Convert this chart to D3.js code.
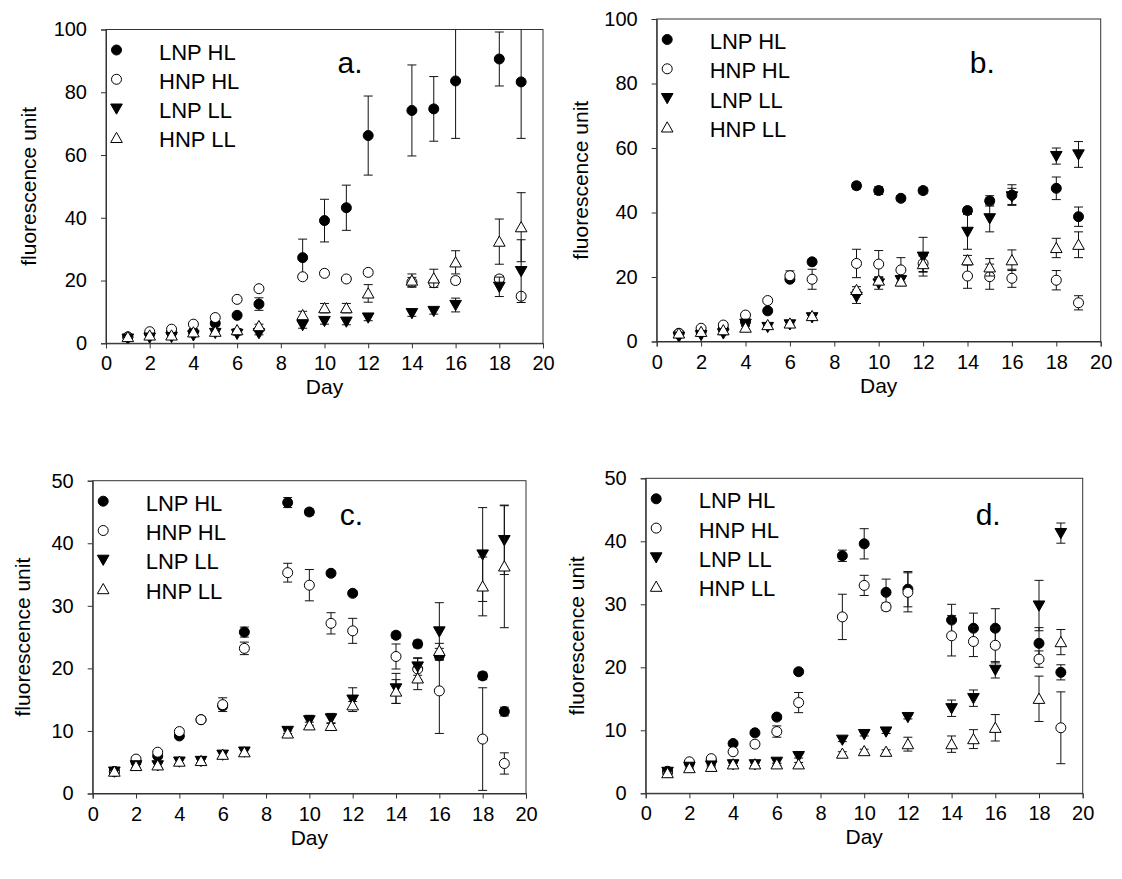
<!DOCTYPE html>
<html>
<head>
<meta charset="utf-8">
<script src="https://cdn.jsdelivr.net/npm/d3@7"></script>
<style>
  html, body { margin: 0; padding: 0; background: #fff; }
  svg { display: block; }
  text { font-family: "Liberation Sans", Arial, Helvetica, sans-serif; fill: #000; }
</style>
</head>
<body>
<svg id="chart" width="1122" height="879"></svg>
<script>
// Sampling days (same for every panel)
const days = [1, 2, 3, 4, 5, 6, 7, 9, 10, 11, 12, 14, 15, 16, 18, 19];
const seriesNames = ["LNP HL", "HNP HL", "LNP LL", "HNP LL"];
const xTicks = [0, 2, 4, 6, 8, 10, 12, 14, 16, 18, 20];
const yTicksAB = [0, 20, 40, 60, 80, 100];
const yTicksCD = [0, 10, 20, 30, 40, 50];

// Panel a: means and error (half-length of bar)
const aLnpHl    = [2.0, 3.0, 3.5, 3.7, 6.4, 8.9, 12.5, 27.3, 39.1, 43.2, 66.2, 74.2, 74.7, 83.6, 90.6, 83.3];
const aLnpHlErr = [0.3, 0.3, 0.3, 0.5, 0.5, 0.5, 2.0, 5.9, 6.8, 7.2, 12.6, 14.5, 10.3, 18.3, 8.6, 18.0];
const aHnpHl    = [2.0, 3.7, 4.5, 6.1, 8.2, 14.0, 17.4, 21.2, 22.3, 20.5, 22.6, 19.5, 19.3, 20.0, 20.5, 15.0];
const aHnpHlErr = [0.3, 0.3, 0.4, 0.4, 0.5, 0.5, 0.5, 0.8, 0.6, 0.6, 0.8, 1.5, 1.0, 1.0, 1.0, 0.8];
const aLnpLl    = [1.5, 1.8, 2.0, 2.5, 3.3, 3.0, 3.2, 5.8, 7.1, 6.9, 8.2, 9.6, 10.3, 12.2, 18.0, 23.0];
const aLnpLlErr = [0.3, 0.3, 0.3, 0.4, 0.4, 0.4, 0.5, 1.0, 1.0, 1.0, 1.0, 1.0, 1.0, 2.2, 3.1, 10.0];
const aHnpLl    = [2.0, 2.5, 2.5, 3.5, 3.7, 4.2, 5.5, 9.0, 11.2, 11.2, 15.9, 20.0, 20.7, 25.8, 32.4, 37.0];
const aHnpLlErr = [0.3, 0.4, 0.4, 0.5, 0.5, 0.5, 0.6, 1.2, 1.5, 1.5, 2.8, 2.1, 2.9, 3.7, 7.2, 11.0];

// Panel b
const bLnpHl    = [2.5, 3.0, 4.0, 6.1, 9.5, 19.3, 24.7, 48.3, 46.8, 44.4, 46.8, 40.6, 43.6, 45.4, 47.5, 38.7];
const bLnpHlErr = [0.3, 0.3, 0.4, 0.5, 0.6, 0.6, 0.6, 1.0, 1.2, 0.8, 1.0, 1.0, 1.6, 3.2, 3.5, 3.0];
const bHnpHl    = [2.5, 4.1, 5.1, 8.2, 12.7, 20.4, 19.3, 24.2, 24.0, 22.2, 24.2, 20.3, 20.1, 19.6, 19.0, 12.0];
const bHnpHlErr = [0.3, 0.3, 0.4, 0.4, 0.5, 1.5, 3.1, 4.4, 4.2, 3.8, 2.5, 3.8, 3.9, 2.8, 3.0, 2.2];
const bLnpLl    = [1.5, 2.0, 2.5, 5.5, 4.5, 5.3, 7.5, 13.9, 18.0, 19.0, 26.3, 34.0, 38.2, 45.0, 57.5, 58.0];
const bLnpLlErr = [0.3, 0.3, 0.4, 0.5, 0.5, 0.5, 0.6, 2.1, 1.8, 1.5, 6.0, 5.4, 4.2, 2.5, 2.5, 4.0];
const bHnpLl    = [2.5, 3.0, 3.5, 4.3, 5.1, 5.6, 7.9, 16.0, 18.9, 18.6, 24.0, 25.2, 23.0, 25.2, 29.0, 30.0];
const bHnpLlErr = [0.3, 0.3, 0.4, 0.4, 0.4, 0.5, 0.6, 1.0, 1.2, 1.3, 2.5, 1.5, 2.7, 3.2, 3.0, 4.0];

// Panel c
const cLnpHl    = [3.5, 5.0, 6.0, 9.2, 11.8, 14.0, 25.8, 46.5, 45.0, 35.2, 32.0, 25.3, 23.9, 22.0, 18.8, 13.1];
const cLnpHlErr = [0.3, 0.3, 0.3, 0.4, 0.4, 0.5, 0.8, 0.8, 0.5, 0.4, 0.4, 0.5, 0.6, 0.6, 0.6, 0.7];
const cHnpHl    = [3.5, 5.5, 6.6, 9.9, 11.8, 14.2, 23.2, 35.3, 33.3, 27.2, 26.0, 21.9, 19.9, 16.4, 8.7, 4.8];
const cHnpHlErr = [0.3, 0.3, 0.3, 0.4, 0.4, 1.1, 1.0, 1.5, 2.5, 1.7, 2.0, 2.0, 1.7, 6.8, 8.2, 1.7];
const cLnpLl    = [3.5, 4.5, 4.5, 5.1, 5.2, 6.2, 6.7, 10.0, 11.7, 12.0, 15.0, 16.8, 20.3, 25.9, 38.2, 40.5];
const cLnpLlErr = [0.3, 0.3, 0.3, 0.3, 0.3, 0.4, 0.4, 0.4, 0.8, 0.8, 1.9, 2.4, 1.4, 4.6, 7.5, 5.5];
const cHnpLl    = [3.5, 4.4, 4.5, 5.1, 5.2, 6.2, 6.6, 9.6, 10.9, 10.8, 14.1, 16.3, 18.4, 22.8, 33.1, 36.3];
const cHnpLlErr = [0.3, 0.3, 0.3, 0.3, 0.3, 0.3, 0.4, 0.4, 0.5, 0.5, 0.6, 1.9, 1.8, 1.2, 4.7, 9.8];

// Panel d
const dLnpHl    = [3.5, 4.8, 5.2, 7.9, 9.6, 12.1, 19.3, 37.7, 39.6, 31.9, 32.4, 27.5, 26.2, 26.2, 23.8, 19.2];
const dLnpHlErr = [0.2, 0.2, 0.3, 0.3, 0.3, 0.4, 0.4, 0.9, 2.4, 2.1, 2.8, 2.5, 2.4, 3.1, 2.5, 1.2];
const dHnpHl    = [3.3, 5.0, 5.5, 6.6, 7.8, 9.8, 14.4, 28.0, 33.0, 29.6, 31.9, 25.0, 24.1, 23.5, 21.3, 10.4];
const dHnpHlErr = [0.2, 0.2, 0.3, 0.3, 0.3, 0.9, 1.6, 3.6, 1.6, 0.6, 3.1, 3.2, 2.4, 2.8, 1.3, 5.7];
const dLnpLl    = [3.4, 4.2, 4.4, 4.6, 4.6, 5.0, 5.9, 8.5, 9.4, 9.8, 12.1, 13.5, 15.1, 19.6, 29.8, 41.3];
const dLnpLlErr = [0.2, 0.2, 0.2, 0.2, 0.2, 0.3, 0.3, 0.3, 0.3, 0.3, 0.3, 1.3, 1.3, 1.3, 4.0, 1.6];
const dHnpLl    = [3.2, 4.0, 4.2, 4.6, 4.6, 4.6, 4.6, 6.3, 6.7, 6.6, 7.8, 7.8, 8.6, 10.4, 15.0, 24.0];
const dHnpLlErr = [0.2, 0.2, 0.2, 0.2, 0.2, 0.2, 0.3, 0.3, 0.3, 0.3, 1.1, 1.3, 1.5, 2.1, 3.6, 2.0];

// Panel placement in the page
const panels = [
  { id: "a", letter: "a.", box: { x0: 106,   x1: 543,    y0: 29.5,  y1: 343.3 }, yMax: 100, yTicks: yTicksAB,
    letterAt: [10.6, 73.3], titleX: 28,
    series: [[aLnpHl, aLnpHlErr], [aHnpHl, aHnpHlErr], [aLnpLl, aLnpLlErr], [aHnpLl, aHnpLlErr]] },
  { id: "b", letter: "b.", box: { x0: 656.7, x1: 1100.7, y0: 19,    y1: 341.5 }, yMax: 100, yTicks: yTicksAB,
    letterAt: [14.1, 73.3], titleX: 580,
    series: [[bLnpHl, bLnpHlErr], [bHnpHl, bHnpHlErr], [bLnpLl, bLnpLlErr], [bHnpLl, bHnpLlErr]] },
  { id: "c", letter: "c.", box: { x0: 92.7,  x1: 526,    y0: 480.7, y1: 793.5 }, yMax: 50, yTicks: yTicksCD,
    letterAt: [11.4, 525], titleX: 22,
    series: [[cLnpHl, cLnpHlErr], [cHnpHl, cHnpHlErr], [cLnpLl, cLnpLlErr], [cHnpLl, cHnpLlErr]] },
  { id: "d", letter: "d.", box: { x0: 645.7, x1: 1082.7, y0: 478.3, y1: 793.3 }, yMax: 50, yTicks: yTicksCD,
    letterAt: [15.1, 525], titleX: 576,
    series: [[dLnpHl, dLnpHlErr], [dHnpHl, dHnpHlErr], [dLnpLl, dLnpLlErr], [dHnpLl, dHnpLlErr]] }
];

// Marker shapes: filled circle, open circle, filled down-triangle, open up-triangle
const markers = [
  { shape: "circle", fill: "#000" },
  { shape: "circle", fill: "#fff" },
  { shape: "down",   fill: "#000" },
  { shape: "up",     fill: "#fff" }
];
const triDown = "M-5.8,-4.6L5.8,-4.6L0,5.6Z";
const triUp   = "M-5.8,4.6L5.8,4.6L0,-5.6Z";

function drawMarker(g, m, x, y) {
  if (m.shape === "circle") {
    g.append("circle").attr("cx", x).attr("cy", y).attr("r", 5)
      .attr("fill", m.fill).attr("stroke", "#000").attr("stroke-width", 1);
  } else {
    g.append("path").attr("d", m.shape === "down" ? triDown : triUp)
      .attr("transform", `translate(${x},${y})`)
      .attr("fill", m.fill).attr("stroke", "#000").attr("stroke-width", 1);
  }
}

const svg = d3.select("#chart");
const fontTick = 20, fontTitle = 21, fontLegend = 22, fontLetter = 30;

panels.forEach(p => {
  const b = p.box;
  const x = d3.scaleLinear().domain([0, 20]).range([b.x0, b.x1]);
  const y = d3.scaleLinear().domain([0, p.yMax]).range([b.y1, b.y0]);
  const g = svg.append("g").attr("class", "panel-" + p.id);

  // clip region for the data
  const clipId = "clip-" + p.id;
  svg.append("clipPath").attr("id", clipId)
    .append("rect").attr("x", b.x0).attr("y", b.y0)
    .attr("width", b.x1 - b.x0).attr("height", b.y1 - b.y0);

  // frame
  g.append("rect").attr("x", b.x0).attr("y", b.y0)
    .attr("width", b.x1 - b.x0).attr("height", b.y1 - b.y0)
    .attr("fill", "none").attr("stroke", "#333").attr("stroke-width", 1);

  // axes
  const xAxis = d3.axisBottom(x).tickValues(xTicks).tickSize(5).tickPadding(8).tickFormat(d3.format("d"));
  const yAxis = d3.axisLeft(y).tickValues(p.yTicks).tickSize(5).tickPadding(14).tickFormat(d3.format("d"));
  const gx = g.append("g").attr("transform", `translate(0,${b.y1})`).call(xAxis);
  const gy = g.append("g").attr("transform", `translate(${b.x0},0)`).call(yAxis);
  [gx, gy].forEach(ax => {
    ax.select(".domain").attr("stroke", "#333");
    ax.selectAll(".tick line").attr("stroke", "#333");
    ax.selectAll(".tick text").attr("font-size", fontTick)
      .attr("font-family", "Liberation Sans, Arial, sans-serif").attr("fill", "#000");
  });

  // axis titles
  g.append("text").attr("x", (b.x0 + b.x1) / 2).attr("y", b.y1 + 51)
    .attr("text-anchor", "middle").attr("font-size", fontTitle).text("Day");
  g.append("text")
    .attr("transform", `translate(${p.titleX},${(b.y0 + b.y1) / 2}) rotate(-90)`)
    .attr("text-anchor", "middle").attr("dominant-baseline", "central")
    .attr("font-size", fontTitle).text("fluorescence unit");

  // data: error bars then markers, series in order
  const dg = g.append("g").attr("clip-path", `url(#${clipId})`);
  p.series.forEach((s, si) => {
    const means = s[0], errs = s[1];
    const m = markers[si];
    days.forEach((d, i) => {
      const cx = x(d);
      const top = y(means[i] + errs[i]);
      const bot = y(Math.max(0, means[i] - errs[i]));
      dg.append("line").attr("x1", cx).attr("x2", cx).attr("y1", top).attr("y2", bot)
        .attr("stroke", "#111").attr("stroke-width", 1);
      [top, bot].forEach(yy => {
        dg.append("line").attr("x1", cx - 4.5).attr("x2", cx + 4.5).attr("y1", yy).attr("y2", yy)
          .attr("stroke", "#111").attr("stroke-width", 1);
      });
    });
    days.forEach((d, i) => drawMarker(dg, m, x(d), y(means[i])));
  });

  // legend
  const lx = b.x0 + 10.5, ly = b.y0 + 20.5;
  seriesNames.forEach((name, i) => {
    const yy = ly + i * 29.3;
    drawMarker(g, markers[i], lx, yy);
    g.append("text").attr("x", b.x0 + 53).attr("y", yy + 9.5)
      .attr("font-size", fontLegend).text(name);
  });

  // panel letter
  g.append("text").attr("x", x(p.letterAt[0])).attr("y", p.letterAt[1])
    .attr("font-size", fontLetter).text(p.letter);
});
</script>
</body>
</html>
